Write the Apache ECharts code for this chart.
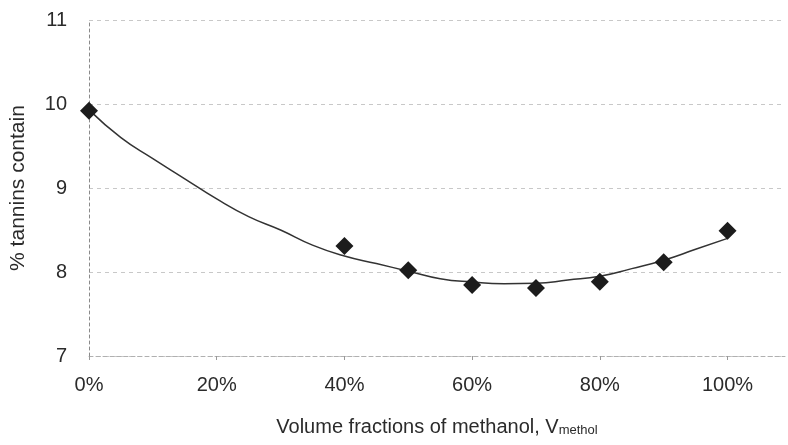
<!DOCTYPE html>
<html>
<head>
<meta charset="utf-8">
<script src="https://cdn.jsdelivr.net/npm/echarts@6/dist/echarts.min.js"></script>
<style>html,body{margin:0;padding:0;background:#fff;}#c{width:788px;height:445px;}</style>
</head>
<body>
<div id="c"></div>
<script>
// Measured points (volume fraction %, % tannins)
const pointX = [0, 40, 50, 60, 70, 80, 90, 100];
const pointY = [9.92, 8.31, 8.02, 7.845, 7.81, 7.885, 8.115, 8.49];
// Trend curve
const curveX = [0, 5, 10, 15, 20, 25, 30, 35, 40, 45, 50, 55, 60, 65, 70, 75, 80, 85, 90, 95, 100];
const curveY = [9.93, 9.6, 9.35, 9.11, 8.87, 8.66, 8.5, 8.32, 8.19, 8.1, 8.01, 7.92, 7.88, 7.86, 7.865, 7.905, 7.95, 8.04, 8.14, 8.27, 8.4];
const xTicks = [0, 20, 40, 60, 80, 100];
const yTicks = [7, 8, 9, 10, 11];

const chart = echarts.init(document.getElementById('c'), null, {renderer: 'canvas'});
const font = '"Liberation Sans", Arial, sans-serif';
chart.setOption({
  animation: false,
  backgroundColor: '#ffffff',
  grid: {left: 87, top: 20, width: 698, height: 336, containLabel: false},
  xAxis: {
    type: 'value', min: 0, max: 109, interval: 20,
    name: '{a|Volume fractions of methanol, V}{s|methol}',
    nameLocation: 'middle', nameGap: 57,
    nameTextStyle: {
      rich: {
        a: {fontFamily: font, fontSize: 20, color: '#2b2b2b', lineHeight: 24, verticalAlign: 'bottom'},
        s: {fontFamily: font, fontSize: 13, color: '#2b2b2b', lineHeight: 24, verticalAlign: 'bottom', padding: [10, 0, 0, 0]}
      }
    },
    axisLine: {show: true, lineStyle: {color: '#b0b0b0', type: [4, 3], width: 1}},
    axisTick: {show: true, length: 4, lineStyle: {color: '#999'}, customValues: xTicks},
    axisLabel: {customValues: xTicks, formatter: v => v + '%', fontFamily: font, fontSize: 20, color: '#2b2b2b', margin: 19},
    splitLine: {show: false}
  },
  yAxis: {
    type: 'value', min: 7, max: 11, interval: 1,
    name: '% tannins contain', nameLocation: 'middle', nameGap: 60, nameRotate: 90,
    nameTextStyle: {fontFamily: font, fontSize: 21, color: '#2b2b2b'},
    axisLine: {show: true, lineStyle: {color: '#8a8a8a', type: [3, 3], width: 1}},
    axisTick: {show: false},
    axisLabel: {fontFamily: font, fontSize: 20, color: '#2b2b2b', margin: 22},
    splitLine: {show: true, lineStyle: {color: '#c8c8c8', type: [4, 4], width: 1}}
  },
  series: [
    {
      type: 'line', smooth: true, showSymbol: false, symbol: 'none',
      data: curveX.map((x, i) => [x, curveY[i]]),
      lineStyle: {color: '#333333', width: 1.5}, z: 2
    },
    {
      type: 'scatter', symbol: 'diamond', symbolSize: 18,
      data: pointX.map((x, i) => [x, pointY[i]]),
      itemStyle: {color: '#1c1c1c', opacity: 1}, z: 3
    }
  ]
});
</script>
</body>
</html>
